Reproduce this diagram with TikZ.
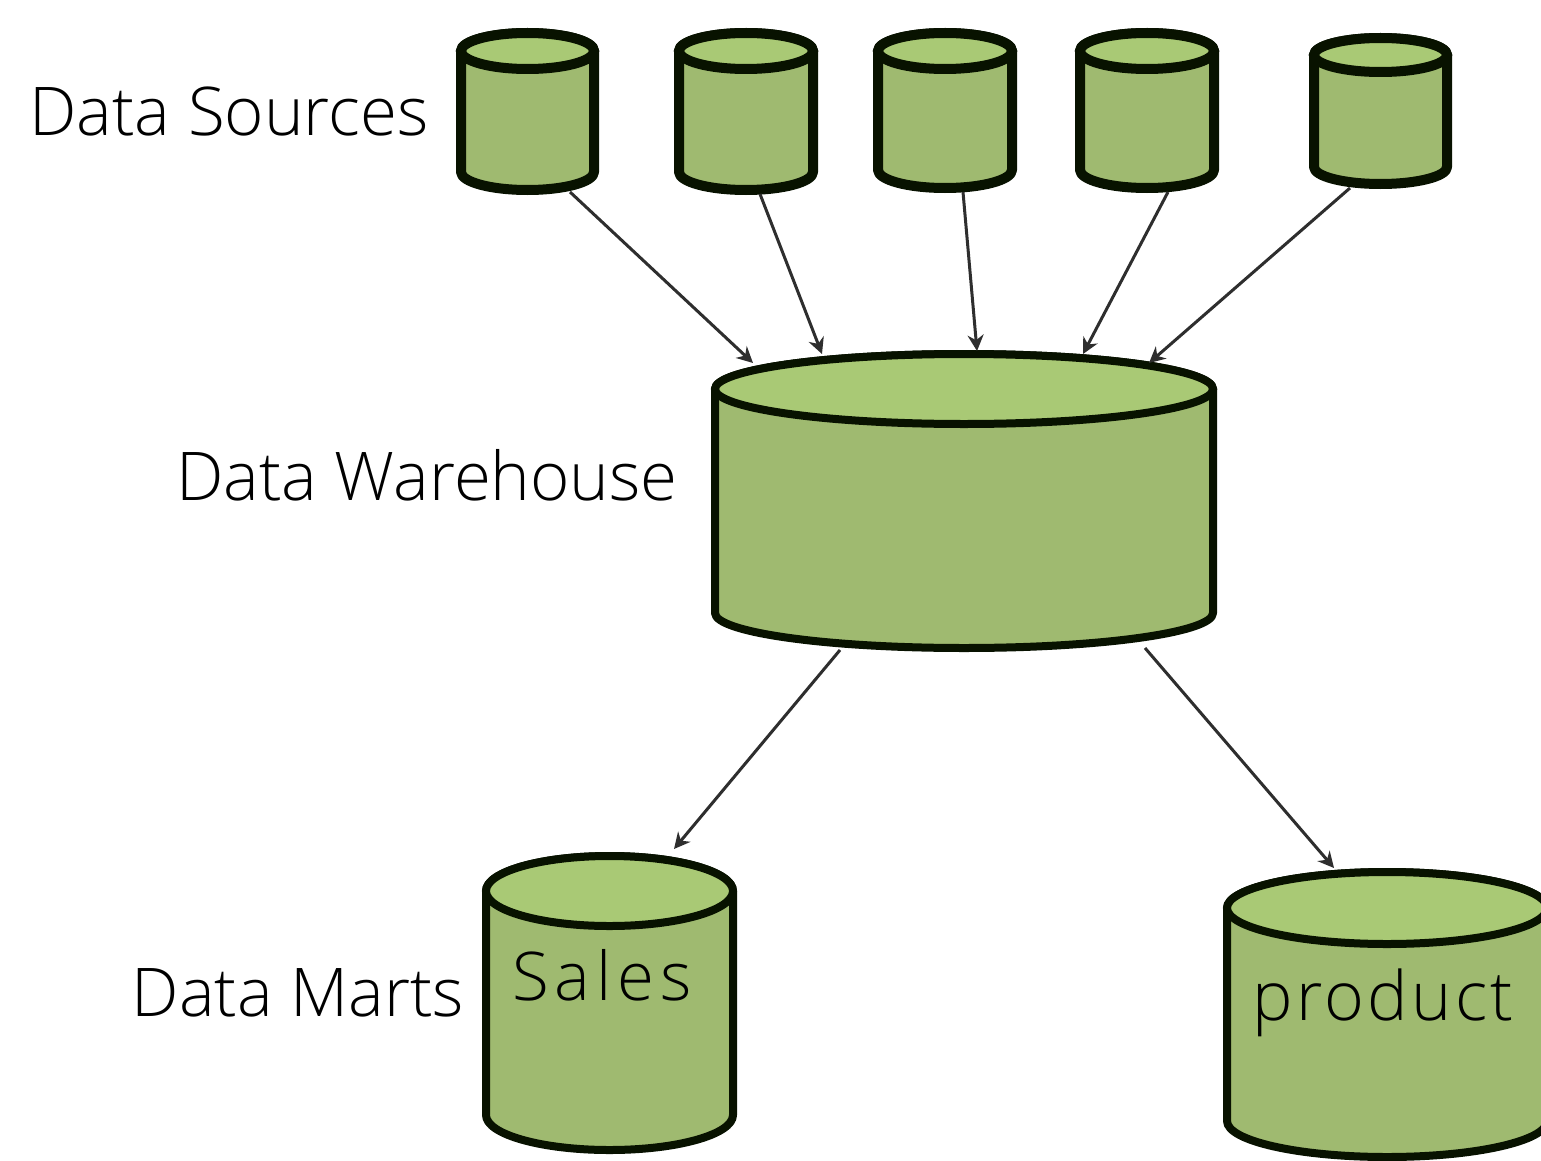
\documentclass[tikz,border=0pt]{standalone}
\usepackage{fontspec}
\setmainfont{Open Sans Light}
\usetikzlibrary{arrows.meta}
\definecolor{cylbody}{HTML}{9FBA70}
\definecolor{cyltop}{HTML}{A9C975}
\definecolor{cylline}{HTML}{081200}
\definecolor{linkc}{HTML}{2E2E2E}
\tikzset{
  cylout/.style={draw=cylline,fill=cylbody,line join=round},
  cyllid/.style={draw=cylline,fill=cyltop},
  linkarrow/.style={draw=linkc,line width=1.5pt,-{Stealth[length=8pt,width=8pt]}},
  lab/.style={anchor=base,inner sep=0pt,text=black,font=\fontsize{33.6}{36}\selectfont},
  labsales/.style={lab,font=\fontsize{33.6}{36}\selectfont\addfontfeatures{LetterSpace=8.7}},
  labprod/.style={lab,font=\fontsize{34}{36}\selectfont\addfontfeatures{LetterSpace=5}}
}
% name, left, right, top, radius y, bottom, stroke
\newcommand{\cylbox}[7]{%
  \pgfmathsetmacro{\cxx}{(#2+#3)/2}%
  \pgfmathsetmacro{\rxx}{(#3-#2)/2}%
  \pgfmathsetmacro{\kx}{0.5523*\rxx}%
  \pgfmathsetmacro{\ky}{0.5523*#5}%
  \pgfmathsetmacro{\cyy}{#4+#5}%
  \pgfmathsetmacro{\lo}{#6-#5}%
  \path[cylout,line width=#7] (#2,\cyy) -- (#2,\lo)
    .. controls (#2,\lo+\ky) and (\cxx-\kx,#6) .. (\cxx,#6)
    .. controls (\cxx+\kx,#6) and (#3,\lo+\ky) .. (#3,\lo)
    -- (#3,\cyy)
    .. controls (#3,\cyy-\ky) and (\cxx+\kx,#4) .. (\cxx,#4)
    .. controls (\cxx-\kx,#4) and (#2,\cyy-\ky) .. (#2,\cyy) -- cycle;
  \path[cyllid,line width=#7] (#2,\cyy)
    .. controls (#2,\cyy+\ky) and (\cxx-\kx,#4+2*#5) .. (\cxx,#4+2*#5)
    .. controls (\cxx+\kx,#4+2*#5) and (#3,\cyy+\ky) .. (#3,\cyy)
    .. controls (#3,\cyy-\ky) and (\cxx+\kx,#4) .. (\cxx,#4)
    .. controls (\cxx-\kx,#4) and (#2,\cyy-\ky) .. (#2,\cyy) -- cycle;
  \node[inner sep=0pt,minimum width=1pt,minimum height=1pt] (#1) at (\cxx,#4) {};
}
\begin{document}
\begin{tikzpicture}[x=0.5pt,y=-0.5pt]
\useasboundingbox (0,0) rectangle (1541,1161);
\fill[white] (0,0) rectangle (1541,1161);
\cylbox{s1}{461}{594}{33}{18}{190}{5pt}
\cylbox{s2}{679}{813}{33}{18}{190}{5pt}
\cylbox{s3}{878}{1012}{33}{18}{188}{5pt}
\cylbox{s4}{1080}{1214}{33}{18}{188}{5pt}
\cylbox{s5}{1314}{1447}{38}{17}{184}{5pt}
\cylbox{wh}{715}{1213}{354}{35}{648}{4pt}
\cylbox{sales}{486}{733}{856}{35}{1150}{4pt}
\cylbox{prod}{1227}{1547}{872}{36}{1157}{4pt}
\coordinate (s1o) at (570,192);
\coordinate (s2o) at (760,194);
\coordinate (s3o) at (963,192);
\coordinate (s4o) at (1168,192);
\coordinate (s5o) at (1350,188);
\coordinate (w1) at (753,363);
\coordinate (w2) at (822,354);
\coordinate (w3) at (977,351);
\coordinate (w4) at (1083,354);
\coordinate (w5) at (1149,363);
\coordinate (wa) at (840,650);
\coordinate (wb) at (1145,648);
\coordinate (sa) at (674,849);
\coordinate (pa) at (1334,868);
\draw[linkarrow] (s1o) -- (w1);
\draw[linkarrow] (s2o) -- (w2);
\draw[linkarrow] (s3o) -- (w3);
\draw[linkarrow] (s4o) -- (w4);
\draw[linkarrow] (s5o) -- (w5);
\draw[linkarrow] (wa) -- (sa);
\draw[linkarrow] (wb) -- (pa);
\node[lab] (t1) at (229,135) {Data Sources};
\node[lab] (t2) at (427,500) {Data Warehouse};
\node[lab] (t3) at (298,1016) {Data Marts};
\node[labsales] (t4) at (602,1000) {Sales};
\node[labprod] (t5) at (1383,1020) {product};
\end{tikzpicture}
\end{document}
